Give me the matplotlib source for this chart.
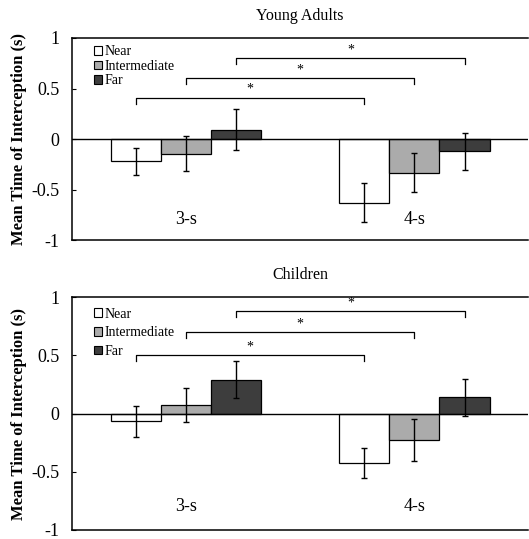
import numpy as np
import matplotlib
matplotlib.use('Agg')
import matplotlib.pyplot as plt
from matplotlib.patches import Patch

plt.rcParams['font.family'] = 'Liberation Serif'

# categories and conditions
groups = ['3-s', '4-s']
conditions = ['Near', 'Intermediate', 'Far']
colors = ['white', '#ababab', '#3d3d3d']

# Young adults: means and SE
adult_near = [-0.22, -0.63]
adult_inter = [-0.145, -0.333]
adult_far = [0.093, -0.122]
adult_near_err = [0.132, 0.19]
adult_inter_err = [0.17, 0.19]
adult_far_err = [0.205, 0.185]
adult_brackets = [0.41, 0.607, 0.80]

# Children: means and SE
child_near = [-0.068, -0.427]
child_inter = [0.074, -0.228]
child_far = [0.29, 0.14]
child_near_err = [0.135, 0.13]
child_inter_err = [0.147, 0.177]
child_far_err = [0.16, 0.16]
child_brackets = [0.50, 0.70, 0.877]

yticks = [-1, -0.5, 0, 0.5, 1]
ytick_labels = ['-1', '-0.5', '0', '0.5', '1']

width = 0.22
x = np.arange(len(groups))

fig = plt.figure(figsize=(5.29, 5.39), dpi=100)
ax1 = fig.add_axes([0.136, 0.5547, 0.863, 0.3748])
ax2 = fig.add_axes([0.136, 0.0167, 0.863, 0.4322])


def draw_panel(ax, title, means, errs, brackets, tick_len, star_off, legend_spacing, legend_y):
    for i, (m, e) in enumerate(zip(means, errs)):
        ax.bar(x + (i - 1) * width, m, width, color=colors[i], edgecolor='black',
               linewidth=0.9, yerr=e, capsize=2.5,
               error_kw=dict(elinewidth=1, capthick=1, ecolor='black'),
               zorder=2)
    ax.axhline(0, color='black', linewidth=1, zorder=3)

    # significance brackets: same condition, 3-s vs 4-s
    for i, h in enumerate(brackets):
        x0 = x[0] + (i - 1) * width
        x1 = x[1] + (i - 1) * width
        ax.plot([x0, x0, x1, x1], [h - tick_len, h, h, h - tick_len],
                color='black', linewidth=0.9)
        ax.text((x0 + x1) / 2, h + star_off, '*', ha='center', va='center', fontsize=10)

    for xi, g in zip(x, groups):
        ax.text(xi, -0.80, g, ha='center', va='center', fontsize=13)

    ax.set_xlim(-0.5, 1.5)
    ax.set_ylim(-1, 1)
    ax.set_xticks([])
    ax.set_yticks(yticks)
    ax.set_yticklabels(ytick_labels, fontsize=13)
    ax.tick_params(axis='y', direction='in', length=3, pad=9)
    ax.spines['right'].set_visible(False)
    for s in ['top', 'bottom', 'left']:
        ax.spines[s].set_linewidth(1.1)
    ax.set_title(title, fontsize=11.5, pad=13)
    ax.set_ylabel('Mean Time of Interception (s)', fontsize=12, fontweight='bold')
    ax.yaxis.set_label_coords(-0.099, 0.5)

    handles = [Patch(facecolor=c, edgecolor='black', linewidth=0.8) for c in colors]
    ax.legend(handles, conditions, loc='upper left', bbox_to_anchor=(0.048, legend_y),
              frameon=False, fontsize=10, handlelength=0.6, handleheight=0.6,
              handletextpad=0.2, labelspacing=legend_spacing, borderpad=0,
              borderaxespad=0)


draw_panel(ax1, 'Young Adults',
           [adult_near, adult_inter, adult_far],
           [adult_near_err, adult_inter_err, adult_far_err],
           adult_brackets, 0.06, 0.08, 0.1, 0.963)
draw_panel(ax2, 'Children',
           [child_near, child_inter, child_far],
           [child_near_err, child_inter_err, child_far_err],
           child_brackets, 0.05, 0.07, 0.4, 0.954)

fig.savefig('out.png', dpi=100)
